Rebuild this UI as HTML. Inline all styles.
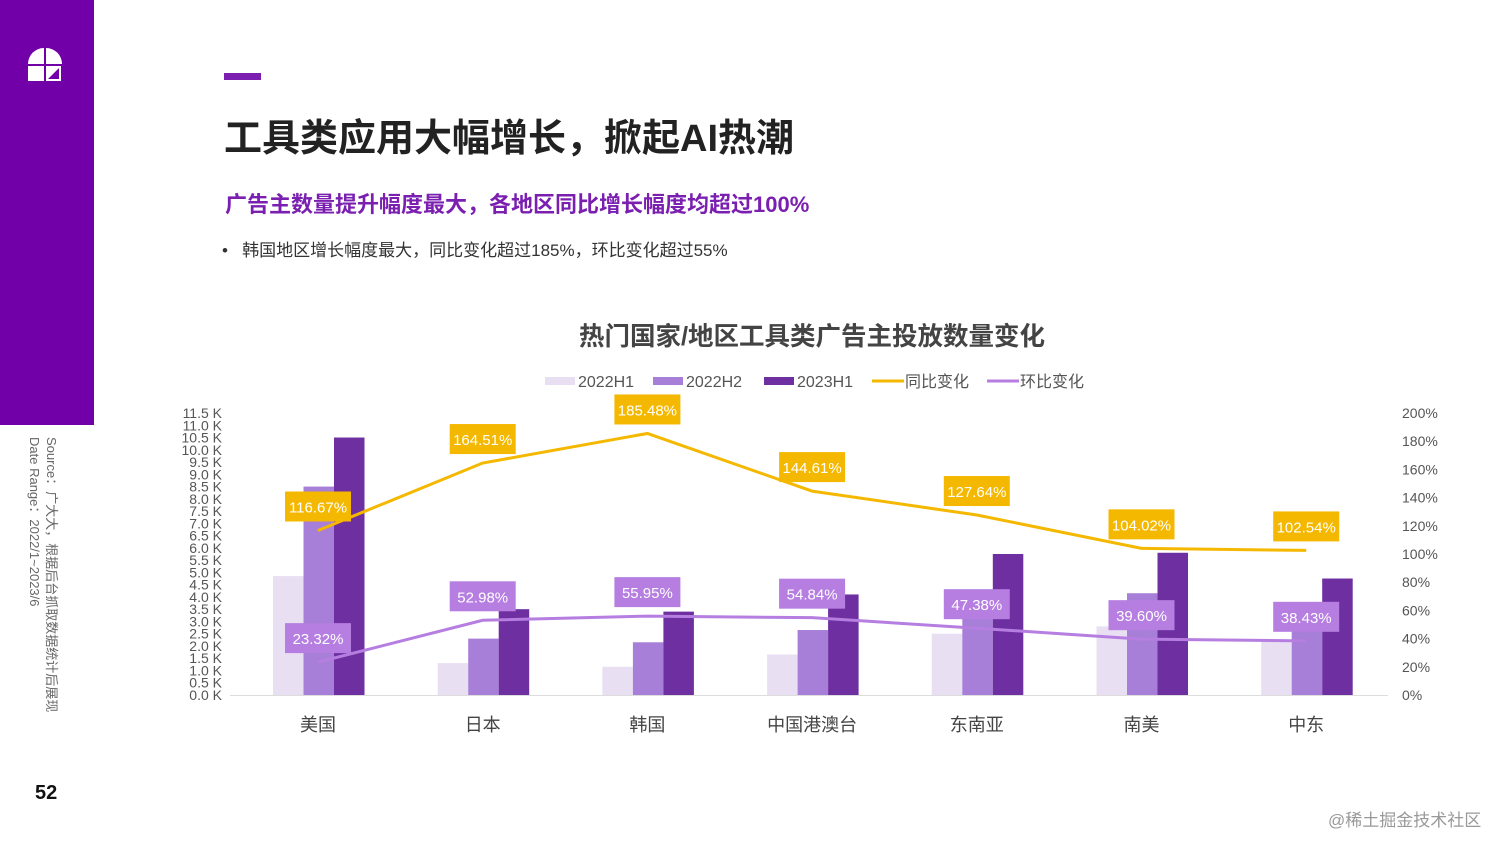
<!DOCTYPE html>
<html><head><meta charset="utf-8">
<style>
body{margin:0;width:1512px;height:851px;overflow:hidden;background:#fff;font-family:"Liberation Sans","Noto Sans CJK SC",sans-serif;position:relative}
.abs{position:absolute}
</style></head><body>
<div class="abs" style="left:0;top:0;width:94px;height:425px;background:#7200a8"></div>
<svg class="abs" style="left:28px;top:48px" width="34" height="34" viewBox="0 0 34 34">
<path d="M0 16 A16 16 0 0 1 16 0 L16 16Z" fill="#fff"/><path d="M18 0 A16 16 0 0 1 34 16 L18 16Z" fill="#fff"/>
<path d="M0 18 L16 18 L16 33 L0 33Z" fill="#fff"/>
<path d="M18 18 L33 18 L33 33 L18 33Z" fill="#fff"/><path d="M20 31 L31 20 L31 31Z" fill="#7200a8"/></svg>
<div class="abs" style="left:36px;top:437px;transform-origin:0 0;transform:rotate(90deg) translate(0,-24px);white-space:nowrap;font-size:13px;color:#666;line-height:17px">Source：广大大，根据后台抓取数据统计后展现<br>Date Range：2022/1~2023/6</div>
<div class="abs" style="left:35px;top:782px;font-size:20px;font-weight:bold;color:#111">52</div>
<div class="abs" style="left:224px;top:73px;width:37px;height:7px;background:#7a1fb0"></div>
<div class="abs" style="left:224px;top:107px;font-size:38px;font-weight:bold;color:#222">工具类应用大幅增长，掀起AI热潮</div>
<div class="abs" style="left:225px;top:187px;font-size:22px;font-weight:bold;color:#7a1fb0">广告主数量提升幅度最大，各地区同比增长幅度均超过100%</div>
<div class="abs" style="left:222px;top:236px;font-size:17px;color:#333">•&nbsp;&nbsp;&nbsp;韩国地区增长幅度最大，同比变化超过185%，环比变化超过55%</div>
<div class="abs" style="left:0;width:1624px;text-align:center;top:316px;font-size:25.5px;font-weight:bold;color:#444">热门国家/地区工具类广告主投放数量变化</div>
<div class="abs" style="left:1328px;top:806px;font-size:17px;color:#999">@稀土掘金技术社区</div>
<svg id="chart" class="abs" style="left:0;top:0" width="1512" height="851"></svg>
<script>
const categories=["美国","日本","韩国","中国港澳台","东南亚","南美","中东"];
const s2022H1=[4.85,1.3,1.15,1.65,2.5,2.8,2.2];
const s2022H2=[8.5,2.3,2.15,2.65,3.9,4.15,3.45];
const s2023H1=[10.5,3.5,3.4,4.1,5.75,5.8,4.75];
const yoy=[116.67,164.51,185.48,144.61,127.64,104.02,102.54];
const mom=[23.32,52.98,55.95,54.84,47.38,39.60,38.43];
const leftTicks=[];for(let i=0;i<=23;i++)leftTicks.push(i*0.5);
const rightTicks=[0,20,40,60,80,100,120,140,160,180,200];
const svg=document.getElementById('chart');const NS='http://www.w3.org/2000/svg';
function mk(t,a,txt){const e=document.createElementNS(NS,t);for(const k in a)e.setAttribute(k,a[k]);if(txt!==undefined)e.textContent=txt;svg.appendChild(e);return e;}
const y0=695,yTop=413;
const yL=v=>y0-(v/11.5)*(y0-yTop);
const yR=v=>y0-(v/200)*(y0-yTop);
const xC=i=>318+i*164.7;
const F='"Liberation Sans","Noto Sans CJK SC",sans-serif';
let e=mk('line',{x1:230,x2:1388,y1:y0+0.5,y2:y0+0.5,stroke:'#ddd'});

leftTicks.forEach(v=>{const t=mk('text',{x:222,y:yL(v)+5,'text-anchor':'end','font-size':14,fill:'#555','font-family':F},v.toFixed(1)+' K');
});
rightTicks.forEach(v=>{const t=mk('text',{x:1402,y:yR(v)+5,'font-size':14,fill:'#555','font-family':F},v+'%');
});
const series=[[s2022H1,'#e9dff3','bar-2022h1'],[s2022H2,'#a87fd8','bar-2022h2'],[s2023H1,'#6e2fa0','bar-2023h1']];
categories.forEach((c,i)=>{series.forEach((s,j)=>{const y=yL(s[0][i]);
const r=mk('rect',{x:xC(i)-45+j*30.5,y:y,width:30.5,height:y0-y,fill:s[1]});
});
const t=mk('text',{x:xC(i),y:731,'text-anchor':'middle','font-size':18,fill:'#444','font-family':F},c);
});
function line(vals,col,name){const p=mk('polyline',{points:vals.map((v,i)=>xC(i)+','+yR(v)).join(' '),fill:'none',stroke:col,'stroke-width':3});

vals.forEach((v,i)=>{const cy=yR(v)-24;const r=mk('rect',{x:xC(i)-33,y:cy-15,width:66,height:30,fill:col});

const t=mk('text',{x:xC(i),y:cy+6,'text-anchor':'middle','font-size':15,fill:'#fff','font-family':F},v.toFixed(2)+'%');
});}
line(yoy,'#f5b800','yoy-line');
line(mom,'#b57ee0','mom-line');
const leg=[['rect','#e9dff3','2022H1',545],['rect','#a87fd8','2022H2',653],['rect','#6e2fa0','2023H1',764],['line','#f5b800','同比变化',872],['line','#b57ee0','环比变化',987]];
leg.forEach(l=>{if(l[0]==='rect'){const r=mk('rect',{x:l[3],y:377,width:30,height:8,fill:l[1]});}
else{const r=mk('line',{x1:l[3],x2:l[3]+32,y1:381,y2:381,stroke:l[1],'stroke-width':3});}
const t=mk('text',{x:l[3]+33,y:387,'font-size':16,fill:'#555','font-family':F},l[2]);
});
</script>
</body></html>
